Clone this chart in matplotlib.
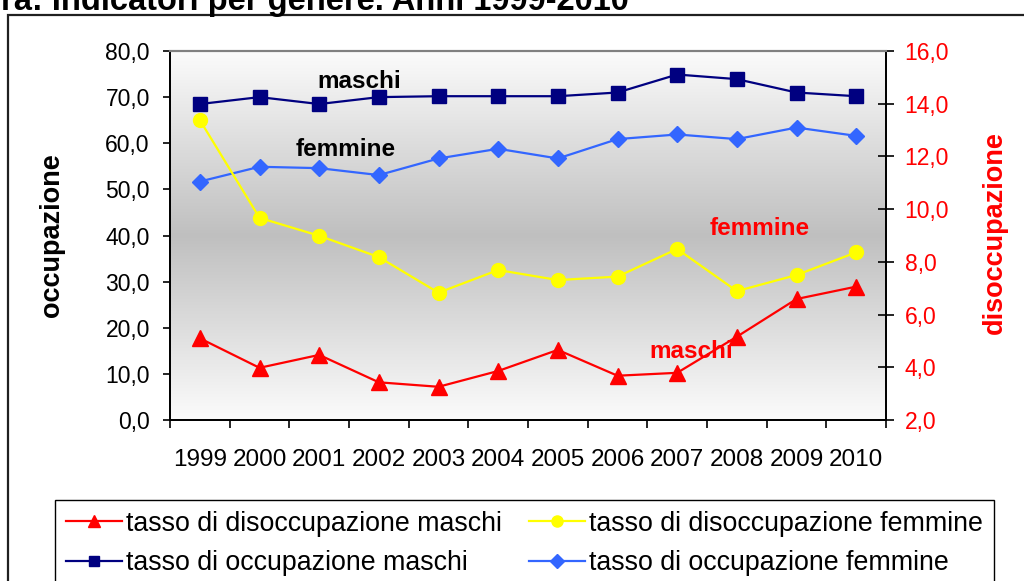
import numpy as np
import matplotlib
matplotlib.use("Agg")
import matplotlib.pyplot as plt
from matplotlib.patches import Rectangle
from matplotlib.ticker import FuncFormatter

plt.rcParams["font.family"] = ["Liberation Sans", "DejaVu Sans"]

# -----------------------------
# Data
# -----------------------------
anni = ["1999", "2000", "2001", "2002", "2003", "2004",
        "2005", "2006", "2007", "2008", "2009", "2010"]

occ_maschi = [68.5, 70.0, 68.5, 70.0, 70.2, 70.2, 70.2, 71.0, 74.9, 73.9, 71.0, 70.2]
occ_femmine = [51.7, 54.9, 54.6, 53.1, 56.7, 58.8, 56.7, 60.9, 61.9, 60.9, 63.4, 61.6]
dis_maschi = [5.10, 3.98, 4.47, 3.43, 3.26, 3.86, 4.66, 3.68, 3.79, 5.16, 6.59, 7.06]
dis_femmine = [13.38, 9.67, 8.99, 8.18, 6.83, 7.69, 7.31, 7.44, 8.49, 6.89, 7.50, 8.36]

titolo = "ra: Indicatori per genere. Anni 1999-2010"
lab_dis_m = "tasso di disoccupazione maschi"
lab_dis_f = "tasso di disoccupazione femmine"
lab_occ_m = "tasso di occupazione maschi"
lab_occ_f = "tasso di occupazione femmine"

# -----------------------------
# Figure / axes
# -----------------------------
fig = plt.figure(figsize=(10.24, 5.81), dpi=100)
ax = fig.add_axes([170 / 1024, 1 - 420 / 581, 716 / 1024, 369 / 581])
ax2 = ax.twinx()

# gradient background: light at top/bottom, gray in the middle
t = np.linspace(0, 1, 256)
v = 1 - np.abs(t - 0.5) * 2
gray = 0.985 - (0.985 - 0.75) * v
grad = np.repeat(np.stack([gray, gray, gray], axis=-1)[:, None, :], 2, axis=1)
ax.imshow(grad, extent=[0, 1, 0, 1], transform=ax.transAxes,
          aspect="auto", zorder=0, interpolation="bilinear")

x = np.arange(len(anni))

l_occ_m, = ax.plot(x, occ_maschi, color="#000080", lw=1.6, marker="s",
                   markersize=9.5, zorder=3)
l_occ_f, = ax.plot(x, occ_femmine, color="#3366FF", lw=1.6, marker="D",
                   markersize=8.5, zorder=3)
l_dis_f, = ax2.plot(x, dis_femmine, color="#FFFF00", lw=1.6, marker="o",
                    markersize=10, zorder=3)
l_dis_m, = ax2.plot(x, dis_maschi, color="#FF0000", lw=1.6, marker="^",
                    markersize=11, zorder=3)

ax.set_xlim(-0.5, len(anni) - 0.5)
ax.set_ylim(0, 80)
ax2.set_ylim(2, 16)

fmt = FuncFormatter(lambda val, pos: f"{val:.1f}".replace(".", ","))
ax.set_yticks(np.arange(0, 81, 10))
ax.yaxis.set_major_formatter(fmt)
ax2.set_yticks(np.arange(2, 17, 2))
ax2.yaxis.set_major_formatter(fmt)

ax.set_xticks(np.arange(-0.5, len(anni), 1))
ax.set_xticklabels([])
ax.set_xticks(x, minor=True)
ax.set_xticklabels(anni, minor=True)

ax.tick_params(axis="x", which="major", direction="out", length=6, width=1.2)
ax.tick_params(axis="x", which="minor", length=0, pad=21, labelsize=17.5)
ax.tick_params(axis="y", direction="out", length=5, width=1.2, pad=9.5,
               labelsize=16.5)
ax2.tick_params(axis="y", direction="inout", length=12, width=1.2, pad=7.5,
                labelsize=16.5, labelcolor="#FF0000")

for a in (ax, ax2):
    a.spines["top"].set_color("#808080")
    a.spines["top"].set_linewidth(1.5)
    for s in ("left", "right", "bottom"):
        a.spines[s].set_color("black")
        a.spines[s].set_linewidth(1.3)

# series annotations
ax.text(0.264, 0.916, "maschi", transform=ax.transAxes, ha="center",
        va="center", fontsize=17.5, fontweight="bold", color="black", zorder=5)
ax.text(0.246, 0.734, "femmine", transform=ax.transAxes, ha="center",
        va="center", fontsize=17.5, fontweight="bold", color="black", zorder=5)
ax2.text(0.824, 0.518, "femmine", transform=ax.transAxes, ha="center",
         va="center", fontsize=17.5, fontweight="bold", color="#FF0000", zorder=5)
ax2.text(0.728, 0.185, "maschi", transform=ax.transAxes, ha="center",
         va="center", fontsize=17.5, fontweight="bold", color="#FF0000", zorder=5)

# axis titles
fig.text(52 / 1024, 1 - 235 / 581, "occupazione", rotation=90, ha="center",
         va="center", fontsize=19.5, fontweight="bold", color="black")
fig.text(995 / 1024, 1 - 233 / 581, "disoccupazione", rotation=90,
         ha="center", va="center", fontsize=19.5, fontweight="bold",
         color="#FF0000")

# title (cut at top like the original)
fig.text(1 / 1024, 1 - 10 / 581, titolo, ha="left", va="baseline",
         fontsize=23.5, fontweight="bold")

# chart border
fig.patches.append(Rectangle((8 / 1024, -0.05), 1.2, 1 - 15 / 581 + 0.05,
                             transform=fig.transFigure, fill=False,
                             edgecolor="#202020", lw=1.6))

leg = fig.legend([l_dis_m, l_occ_m, l_dis_f, l_occ_f],
                 [lab_dis_m, lab_occ_m, lab_dis_f, lab_occ_f],
                 ncol=2, loc="upper left",
                 bbox_to_anchor=(55 / 1024, 1 - 500 / 581),
                 borderaxespad=0, fontsize=19.3, frameon=True,
                 fancybox=False, edgecolor="black", framealpha=1,
                 borderpad=0.4, labelspacing=0.5, handlelength=2.1,
                 handletextpad=0.15, columnspacing=1.0, markerscale=0.8)
leg.get_frame().set_linewidth(1.0)

fig.savefig("out.png", dpi=100)
